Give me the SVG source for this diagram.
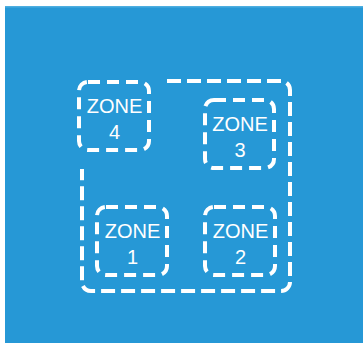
<svg xmlns="http://www.w3.org/2000/svg" width="363" height="343" viewBox="0 0 363 343">
<style>
.dash{fill:none;stroke:#ffffff;stroke-width:4;stroke-dasharray:12 7;stroke-linecap:butt}
.outer{fill:none;stroke:#ffffff;stroke-width:4;stroke-dasharray:14 6}
.lbl{fill:#ffffff;font-family:"Liberation Sans",Arial,sans-serif;font-size:20px;text-anchor:middle}
</style>
<rect x="5" y="6" width="358" height="337" fill="#2698D6"/>
<rect x="5" y="6" width="358" height="1.5" fill="#4DAEE0"/>
<g id="connectors">
<path class="outer" d="M167 81 H281 A9 9 0 0 1 290 90 V282 A9 9 0 0 1 281 291 H91 A9 9 0 0 1 82 282 V169"/>
</g>
<g id="zone4">
<rect class="dash" x="79" y="82" width="70" height="68" rx="9"/>
<text class="lbl" x="114.5" y="112.5">ZONE</text>
<text class="lbl" x="114.5" y="138.5">4</text>
</g>
<g id="zone3">
<rect class="dash" x="205" y="100" width="69" height="68" rx="9"/>
<text class="lbl" x="240" y="130.5">ZONE</text>
<text class="lbl" x="240" y="156.5">3</text>
</g>
<g id="zone1">
<rect class="dash" x="97" y="207" width="70" height="68" rx="9"/>
<text class="lbl" x="132.5" y="237.5">ZONE</text>
<text class="lbl" x="132.5" y="263.5">1</text>
</g>
<g id="zone2">
<rect class="dash" x="205" y="207" width="70" height="68" rx="9"/>
<text class="lbl" x="240.5" y="237.5">ZONE</text>
<text class="lbl" x="240.5" y="263.5">2</text>
</g>
</svg>
